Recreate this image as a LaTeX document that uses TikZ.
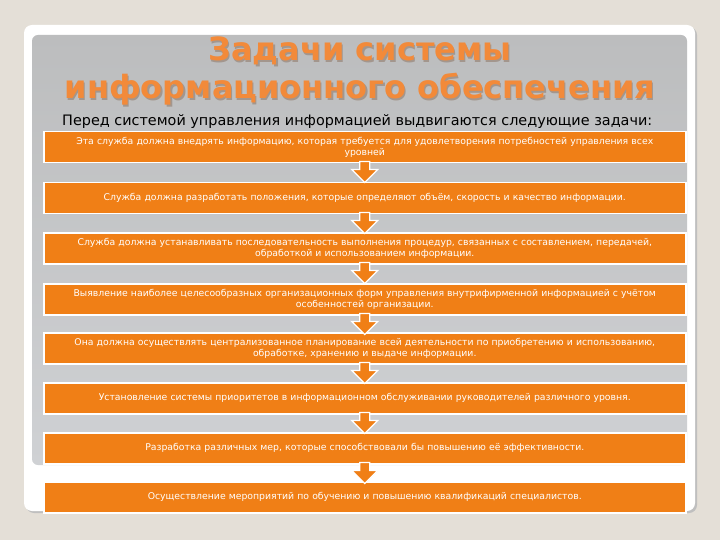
\documentclass[tikz,border=0pt]{standalone}
\usepackage{fontspec}
\setmainfont{DejaVu Sans}
\usetikzlibrary{calc}
\definecolor{bgbeige}{HTML}{E4DFD7}
\definecolor{boxorange}{HTML}{F07F16}
\definecolor{titleorange}{HTML}{F28A3A}
\definecolor{titleshadow}{HTML}{A3968D}
\definecolor{graytop}{HTML}{BCBDBE}
\definecolor{graybot}{HTML}{CFD1D4}
\tikzset{
  taskbox/.style={draw=white, line width=1.5pt, fill=boxorange, minimum width=642pt,
    minimum height=31pt, inner sep=0pt, anchor=north west, text=white,
    text width=636pt, align=center, font=\fontsize{9.3}{10.6}\selectfont},
  flowarrow/.style={fill=boxorange, draw=white, line width=1.3pt, line join=miter},
  titletext/.style={font=\fontsize{32}{36}\selectfont\bfseries, anchor=base},
}
\newcommand\downarrowshape[1]{%
  \draw[flowarrow] ($(#1.south)+(-5,-2)$) -- ($(#1.south)+(5,-2)$) -- ($(#1.south)+(5,6)$)
    -- ($(#1.south)+(13,6)$) -- ($(#1.south)+(0,19)$) -- ($(#1.south)+(-13,6)$)
    -- ($(#1.south)+(-5,6)$) -- cycle;}
\begin{document}
\begin{tikzpicture}[x=1pt,y=-1pt]
\useasboundingbox (0,0) rectangle (720,540);
\fill[bgbeige] (0,0) rectangle (720,540);
% white panel
\fill[black!25, rounded corners=8pt] (26,27) rectangle (697,513);
\fill[white, rounded corners=8pt] (24,25) rectangle (695,511);
% gray inner panel
\shade[top color=graytop, bottom color=graybot, rounded corners=6pt] (32,35) rectangle (687,465);
% title
\node[titletext, text=titleshadow] at (361.2,62.2) {Задачи системы};
\node[titletext, text=titleorange] (t1) at (360,61) {Задачи системы};
\node[titletext, text=titleshadow] at (361.2,100.2) {информационного обеспечения};
\node[titletext, text=titleorange] (t2) at (360,99) {информационного обеспечения};
\node[anchor=base west, font=\fontsize{14.4}{16}\selectfont, inner sep=0pt] (sub) at (62,126)
  {Перед системой управления информацией выдвигаются следующие задачи:};
% boxes
\node[taskbox] (b1) at (43,131) {Эта служба должна внедрять информацию, которая требуется для удовлетворения потребностей управления всех\\уровней};
\node[taskbox] (b2) at (43,182) {Служба должна разработать положения, которые определяют объём, скорость и качество информации.};
\node[taskbox] (b3) at (43,232) {Служба должна устанавливать последовательность выполнения процедур, связанных с составлением, передачей,\\обработкой и использованием информации.};
\node[taskbox] (b4) at (43,283) {Выявление наиболее целесообразных организационных форм управления внутрифирменной информацией с учётом\\особенностей организации.};
\node[taskbox] (b5) at (43,332) {Она должна осуществлять централизованное планирование всей деятельности по приобретению и использованию,\\обработке, хранению и выдаче информации.};
\node[taskbox] (b6) at (43,382) {Установление системы приоритетов в информационном обслуживании руководителей различного уровня.};
\node[taskbox] (b7) at (43,432) {Разработка различных мер, которые способствовали бы повышению её эффективности.};
\node[taskbox] (b8) at (43,481) {Осуществление мероприятий по обучению и повышению квалификаций специалистов.};
% arrows
\downarrowshape{b1}
\downarrowshape{b2}
\downarrowshape{b3}
\downarrowshape{b4}
\downarrowshape{b5}
\downarrowshape{b6}
\downarrowshape{b7}
\end{tikzpicture}
\end{document}
